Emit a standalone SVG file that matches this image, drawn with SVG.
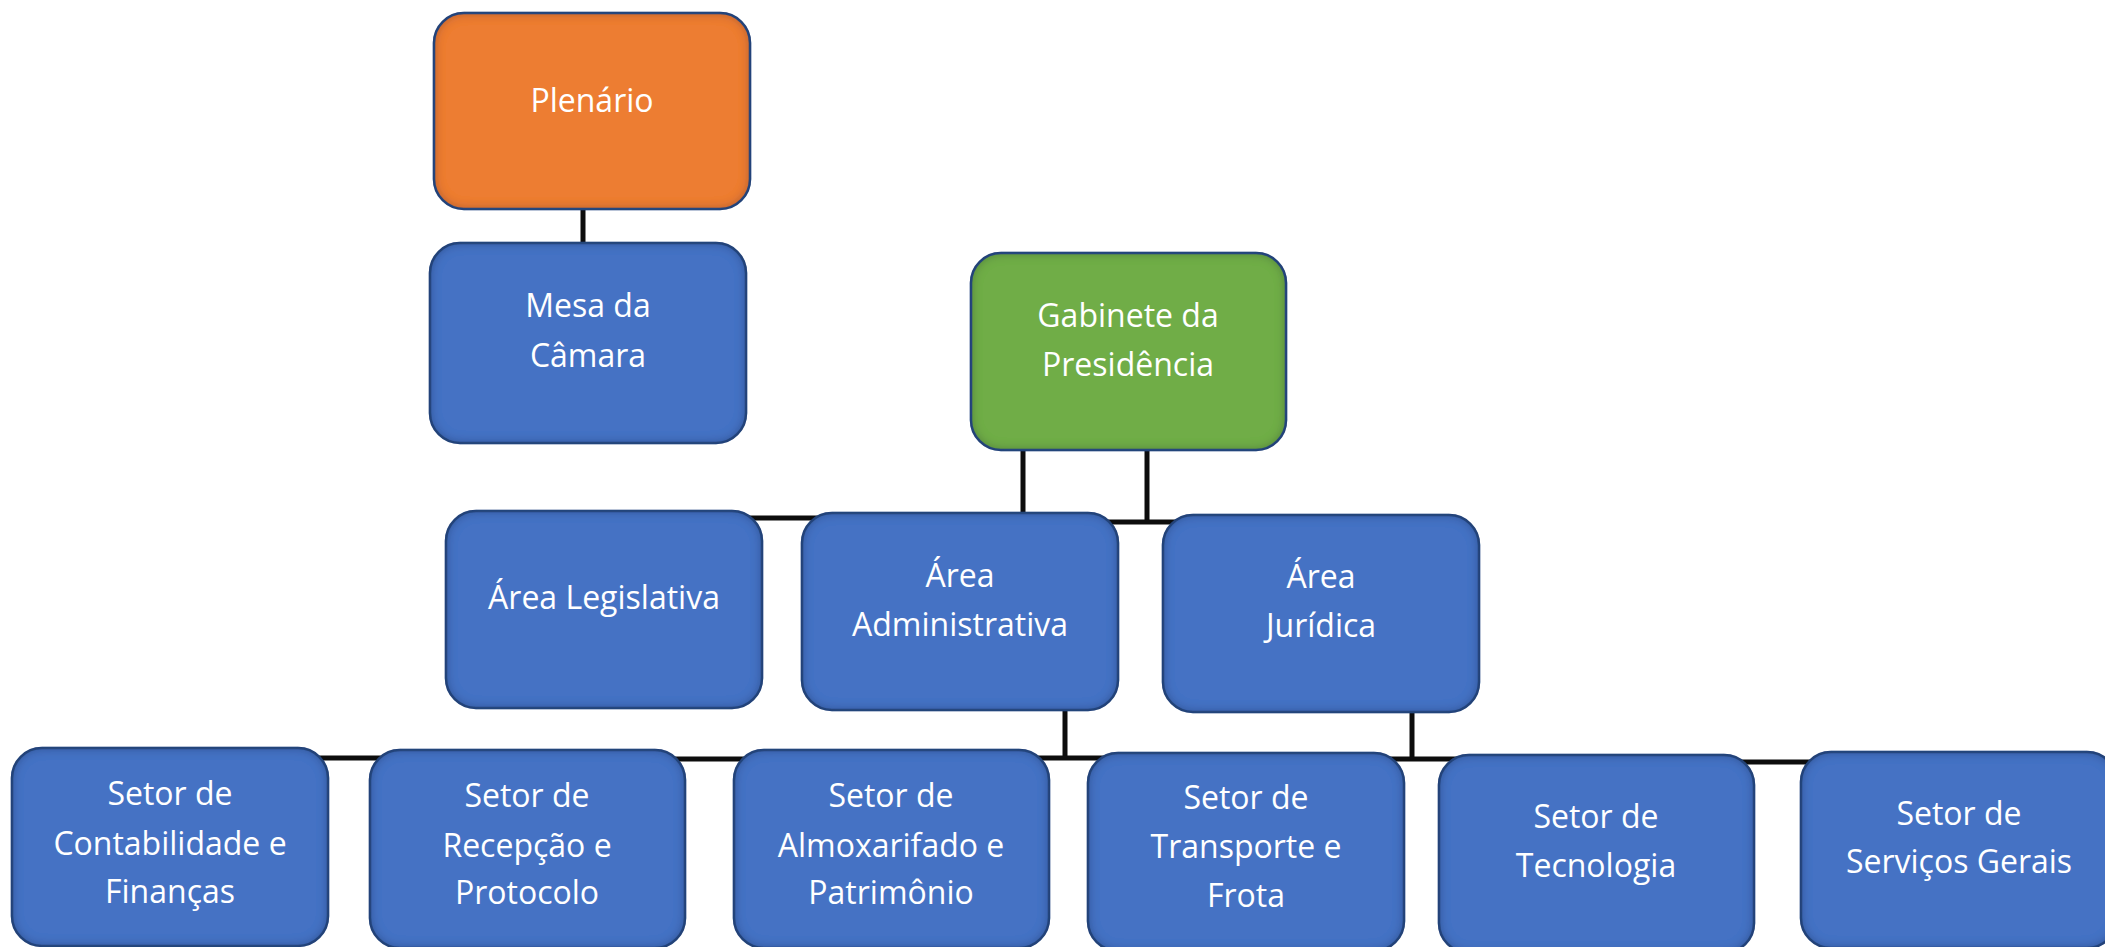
<svg xmlns="http://www.w3.org/2000/svg" width="2105" height="947" viewBox="0 0 2105 947">
  <style>
    .box { stroke: #2F528F; stroke-width: 2.5; filter: url(#inner); }
    .blue { fill: #4472C4; }
    .orange { fill: #ED7D31; }
    .green { fill: #70AD47; }
    .lbl { font-family: "Open Sans", "Noto Sans", "Liberation Sans", sans-serif; font-size: 32px; fill: #FFFFFF; text-anchor: middle; }
    .conn { stroke: #0D0D0D; stroke-width: 5; fill: none; }
  </style>
  <defs>
    <filter id="inner" x="-5%" y="-5%" width="110%" height="110%">
      <feFlood flood-color="#0A1530" flood-opacity="0.75" result="c"/>
      <feComposite in="c" in2="SourceAlpha" operator="out" result="outside"/>
      <feGaussianBlur in="outside" stdDeviation="6" result="blur"/>
      <feComposite in="blur" in2="SourceAlpha" operator="in" result="shadow"/>
      <feMerge>
        <feMergeNode in="SourceGraphic"/>
        <feMergeNode in="shadow"/>
      </feMerge>
    </filter>
  </defs>
  <rect width="2105" height="947" fill="#FFFFFF"/>

  <g id="connectors">
    <line class="conn" x1="583" y1="208" x2="583" y2="244"/>
    <line class="conn" x1="1023" y1="449" x2="1023" y2="514"/>
    <line class="conn" x1="1147" y1="449" x2="1147" y2="522"/>
    <line class="conn" x1="1104" y1="522" x2="1178" y2="522"/>
    <line class="conn" x1="745" y1="518" x2="819" y2="518"/>
    <line class="conn" x1="1065" y1="708" x2="1065" y2="758"/>
    <line class="conn" x1="1036" y1="758" x2="1109" y2="758"/>
    <line class="conn" x1="314" y1="758" x2="387" y2="758"/>
    <line class="conn" x1="674" y1="759" x2="746" y2="759"/>
    <line class="conn" x1="1412" y1="710" x2="1412" y2="759"/>
    <line class="conn" x1="1386" y1="759" x2="1460" y2="759"/>
    <line class="conn" x1="1740" y1="762" x2="1813" y2="762"/>
  </g>

  <g id="plenario">
    <rect class="box orange" x="434" y="13" width="316" height="196" rx="30"/>
    <text class="lbl" x="592" y="112">Plenário</text>
  </g>
  <g id="mesa">
    <rect class="box blue" x="430" y="243" width="316" height="200" rx="30"/>
    <text class="lbl" x="588" y="317">Mesa da</text>
    <text class="lbl" x="588" y="367">Câmara</text>
  </g>
  <g id="gabinete">
    <rect class="box green" x="971" y="253" width="315" height="197" rx="30"/>
    <text class="lbl" x="1128" y="327">Gabinete da</text>
    <text class="lbl" x="1128" y="376">Presidência</text>
  </g>
  <g id="area-legislativa">
    <rect class="box blue" x="446" y="511" width="316" height="197" rx="30"/>
    <text class="lbl" x="604" y="609">Área Legislativa</text>
  </g>
  <g id="area-administrativa">
    <rect class="box blue" x="802" y="513" width="316" height="197" rx="30"/>
    <text class="lbl" x="960" y="587">Área</text>
    <text class="lbl" x="960" y="636">Administrativa</text>
  </g>
  <g id="area-juridica">
    <rect class="box blue" x="1163" y="515" width="316" height="197" rx="30"/>
    <text class="lbl" x="1321" y="588">Área</text>
    <text class="lbl" x="1321" y="637">Jurídica</text>
  </g>
  <g id="setor-contabilidade">
    <rect class="box blue" x="12" y="748" width="316" height="198" rx="30"/>
    <text class="lbl" x="170" y="805">Setor de</text>
    <text class="lbl" x="170" y="855">Contabilidade e</text>
    <text class="lbl" x="170" y="903">Finanças</text>
  </g>
  <g id="setor-recepcao">
    <rect class="box blue" x="370" y="750" width="315" height="198" rx="30"/>
    <text class="lbl" x="527" y="807">Setor de</text>
    <text class="lbl" x="527" y="857">Recepção e</text>
    <text class="lbl" x="527" y="904">Protocolo</text>
  </g>
  <g id="setor-almoxarifado">
    <rect class="box blue" x="734" y="750" width="315" height="198" rx="30"/>
    <text class="lbl" x="891" y="807">Setor de</text>
    <text class="lbl" x="891" y="857">Almoxarifado e</text>
    <text class="lbl" x="891" y="904">Patrimônio</text>
  </g>
  <g id="setor-transporte">
    <rect class="box blue" x="1088" y="753" width="316" height="198" rx="30"/>
    <text class="lbl" x="1246" y="809">Setor de</text>
    <text class="lbl" x="1246" y="858">Transporte e</text>
    <text class="lbl" x="1246" y="907">Frota</text>
  </g>
  <g id="setor-tecnologia">
    <rect class="box blue" x="1439" y="755" width="315" height="198" rx="30"/>
    <text class="lbl" x="1596" y="828">Setor de</text>
    <text class="lbl" x="1596" y="877">Tecnologia</text>
  </g>
  <g id="setor-servicos">
    <rect class="box blue" x="1801" y="752" width="316" height="196" rx="30"/>
    <text class="lbl" x="1959" y="825">Setor de</text>
    <text class="lbl" x="1959" y="873">Serviços Gerais</text>
  </g>
</svg>
